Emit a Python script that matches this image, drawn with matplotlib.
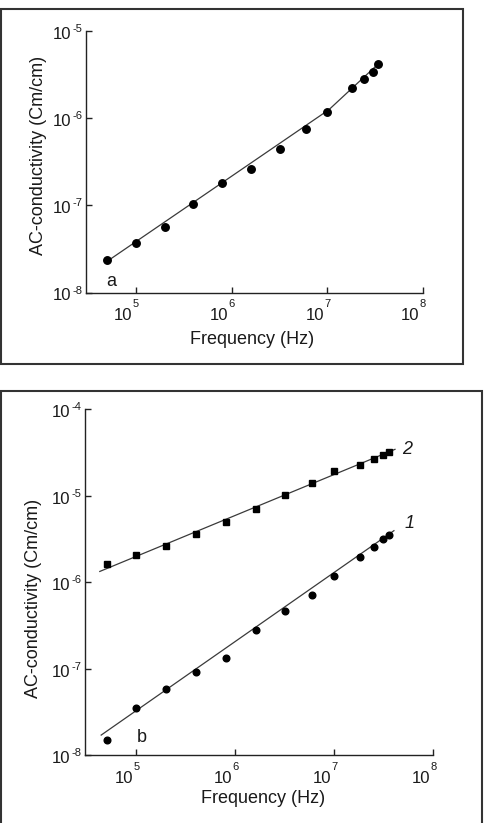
import matplotlib
matplotlib.use('Agg')
import matplotlib.pyplot as plt
from matplotlib.patches import Rectangle

plt.rcParams['font.family'] = ['Liberation Sans', 'DejaVu Sans']

W, H = 485, 823

# ---- panel a data ----
freq_a = [5e4, 1e5, 2e5, 4e5, 8e5, 1.6e6, 3.2e6, 6e6, 1e7, 1.8e7, 2.4e7, 3e7, 3.4e7]
sigma_a = [2.37e-8, 3.74e-8, 5.7e-8, 1.04e-7, 1.81e-7, 2.61e-7, 4.46e-7, 7.5e-7,
           1.18e-6, 2.23e-6, 2.8e-6, 3.4e-6, 4.2e-6]
fit_a_freq = [5.2e4, 1.04e7, 3.47e7]
fit_a_sigma = [2.34e-8, 1.25e-6, 4.27e-6]

# ---- panel b data ----
freq_b = [5e4, 1e5, 2e5, 4e5, 8e5, 1.6e6, 3.2e6, 6e6, 1e7, 1.8e7, 2.5e7, 3.1e7, 3.6e7]
sigma_b1 = [1.49e-8, 3.5e-8, 5.75e-8, 9.1e-8, 1.32e-7, 2.82e-7, 4.63e-7, 7.05e-7,
            1.17e-6, 1.97e-6, 2.55e-6, 3.14e-6, 3.55e-6]
sigma_b2 = [1.61e-6, 2.05e-6, 2.63e-6, 3.58e-6, 5.0e-6, 7.1e-6, 1.02e-5, 1.42e-5,
            1.92e-5, 2.25e-5, 2.66e-5, 2.94e-5, 3.18e-5]
fit_b1_freq = [4.4e4, 4.0e7]
fit_b1_sigma = [1.70e-8, 3.94e-6]
fit_b2_freq = [4.26e4, 4.1e7]
fit_b2_sigma = [1.33e-6, 3.44e-5]

xticks = [1e5, 1e6, 1e7, 1e8]
xtick_exps = ['5', '6', '7', '8']
yticks_a = [1e-8, 1e-7, 1e-6, 1e-5]
ytick_exps_a = ['-8', '-7', '-6', '-5']
yticks_b = [1e-8, 1e-7, 1e-6, 1e-5, 1e-4]
ytick_exps_b = ['-8', '-7', '-6', '-5', '-4']

fig = plt.figure(figsize=(W / 100, H / 100), dpi=100)
fig.patch.set_facecolor('white')

FRAME = '#333333'
LINE = '#3a3a3a'
TXT = '#1a1a1a'
PT = 0.72  # points per pixel at 100 dpi
BASE_FS = 12
EXP_FS = 8
LAB_FS = 13


def box(l, t, r, b):
    fig.patches.append(Rectangle((l / W, 1 - b / H), (r - l) / W, (b - t) / H,
                                 transform=fig.transFigure, fill=False,
                                 edgecolor=FRAME, linewidth=1.5))


def px_axes(l, t, r, b):
    return fig.add_axes([l / W, 1 - b / H, (r - l) / W, (b - t) / H])


def lab(ax, text, xy, coords, dx, dy, ha, fs):
    ax.annotate(text, xy=xy, xycoords=coords, xytext=(dx * PT, dy * PT),
                textcoords='offset points', ha=ha, va='baseline', fontsize=fs,
                color=TXT, annotation_clip=False)


def style(ax, ylim, yticks, yexps):
    ax.set_xscale('log')
    ax.set_yscale('log')
    ax.set_xlim(10 ** 4.48, 1e8)
    ax.set_ylim(*ylim)
    for s in ['top', 'right']:
        ax.spines[s].set_visible(False)
    for s in ['left', 'bottom']:
        ax.spines[s].set_linewidth(1.0)
        ax.spines[s].set_color('#222222')
    ax.set_xticks(xticks)
    ax.set_yticks(yticks)
    ax.minorticks_off()
    ax.set_xticklabels([])
    ax.set_yticklabels([])
    ax.tick_params(axis='both', direction='in', length=4, width=1.0, colors='#222222')
    xc = ('data', 'axes fraction')
    for t, e in zip(xticks, xtick_exps):
        lab(ax, '10', (t, 0), xc, -3.5, -28, 'right', BASE_FS)
        lab(ax, e, (t, 0), xc, -3.2, -14.7, 'left', EXP_FS)
    yc = ('axes fraction', 'data')
    for t, e in zip(yticks, yexps):
        lab(ax, '10', (0, t), yc, -14.3, -8, 'right', BASE_FS)
        lab(ax, e, (0, t), yc, -13.7, -1, 'left', EXP_FS)
    ax.patch.set_alpha(0)


# ---------------- panel a ----------------
box(1, 9, 463, 364)
ax1 = px_axes(86, 31, 423, 292.5)
style(ax1, (1e-8, 1e-5), yticks_a, ytick_exps_a)
ax1.plot(fit_a_freq, fit_a_sigma, color=LINE, lw=0.9, zorder=2)
ax1.plot(freq_a, sigma_a, 'o', color='black', ms=5.4, zorder=3)
fig.text(111.7 / W, 1 - 281 / H, 'a', fontsize=LAB_FS, ha='center', va='center', color=TXT)
fig.text(252 / W, 1 - 340 / H, 'Frequency (Hz)', fontsize=LAB_FS, ha='center', va='center', color=TXT)
fig.text(39 / W, 1 - 155 / H, 'AC-conductivity (Cm/cm)', fontsize=LAB_FS,
         ha='center', va='center', rotation=90, color=TXT)

# ---------------- panel b ----------------
box(1, 391, 482, 830)
ax2 = px_axes(85, 409.3, 433.3, 755)
style(ax2, (1e-8, 1e-4), yticks_b, ytick_exps_b)
ax2.plot(fit_b2_freq, fit_b2_sigma, color=LINE, lw=0.9, zorder=2)
ax2.plot(fit_b1_freq, fit_b1_sigma, color=LINE, lw=0.9, zorder=2)
ax2.plot(freq_b, sigma_b2, 's', color='black', ms=4.6, zorder=3)
ax2.plot(freq_b, sigma_b1, 'o', color='black', ms=4.8, zorder=3)
fig.text(407.3 / W, 1 - 449.3 / H, '2', fontsize=LAB_FS, ha='center', va='center', style='italic', color=TXT)
fig.text(409.3 / W, 1 - 523.3 / H, '1', fontsize=LAB_FS, ha='center', va='center', style='italic', color=TXT)
fig.text(141.7 / W, 1 - 737.3 / H, 'b', fontsize=LAB_FS, ha='center', va='center', color=TXT)
fig.text(263.3 / W, 1 - 798.3 / H, 'Frequency (Hz)', fontsize=LAB_FS, ha='center', va='center', color=TXT)
fig.text(33.3 / W, 1 - 598 / H, 'AC-conductivity (Cm/cm)', fontsize=LAB_FS,
         ha='center', va='center', rotation=90, color=TXT)

fig.savefig('out.png', dpi=100, facecolor='white')
